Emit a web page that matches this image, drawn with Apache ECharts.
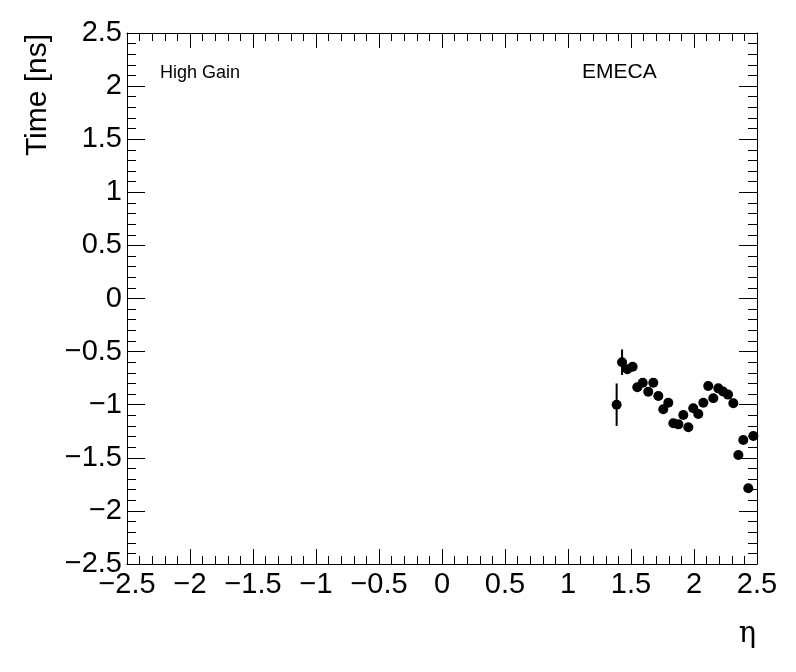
<!DOCTYPE html>
<html>
<head>
<meta charset="utf-8">
<script src="https://cdn.jsdelivr.net/npm/echarts@6/dist/echarts.min.js"></script>
<style>html,body{margin:0;padding:0;background:#fff}#c{width:796px;height:672px}</style>
</head>
<body>
<div id="c"></div>
<script>
var eta = [1.386, 1.429, 1.471, 1.513, 1.550, 1.593, 1.637, 1.677, 1.717, 1.756, 1.796, 1.836, 1.876, 1.915, 1.955, 1.994, 2.034, 2.074, 2.113, 2.153, 2.193, 2.230, 2.270, 2.312, 2.352, 2.391, 2.431, 2.471];
var timeNs = [-1.00, -0.60, -0.667, -0.642, -0.836, -0.793, -0.878, -0.793, -0.918, -1.043, -0.981, -1.175, -1.185, -1.097, -1.213, -1.034, -1.088, -0.981, -0.824, -0.940, -0.846, -0.875, -0.905, -0.987, -1.474, -1.332, -1.787, -1.295];
var timeErr = [0.20, 0.12, 0.03, 0.03, 0.03, 0.03, 0.03, 0.03, 0.03, 0.03, 0.03, 0.03, 0.03, 0.03, 0.03, 0.03, 0.03, 0.03, 0.03, 0.03, 0.03, 0.03, 0.03, 0.03, 0.03, 0.03, 0.03, 0.03];
var xTitle = 'η';
var yTitle = 'Time [ns]';
var label1 = 'High Gain';
var label2 = 'EMECA';

var FONT = '"Liberation Sans", Arial, Helvetica, sans-serif';
function fmt(v) {
  var a = Math.round(Math.abs(v) * 10) / 10;
  return (v < -1e-9 ? '\u2212' : '') + a;
}
var pts = eta.map(function (e, i) { return [e, timeNs[i]]; });
var errs = eta.map(function (e, i) { return [e, timeNs[i] - timeErr[i], timeNs[i] + timeErr[i]]; });

function axis(extra, majorLen, minorLen) {
  var o = {
    axisLine: { show: true, onZero: false, lineStyle: { color: '#000', width: 1 } },
    axisTick: { show: true, inside: true, length: majorLen, lineStyle: { color: '#000', width: 1 } },
    minorTick: { show: true, splitNumber: 5, length: minorLen, lineStyle: { color: '#000', width: 1 } },
    splitLine: { show: false }
  };
  for (var k in extra) o[k] = extra[k];
  return o;
}

var chart = echarts.init(document.getElementById('c'), null, { renderer: 'canvas' });
chart.setOption({
  animation: false,
  backgroundColor: '#fff',
  grid: { left: 127, right: 39, top: 33, bottom: 108 },
  xAxis: [
    axis({ type: 'value', min: -2.5, max: 2.5, interval: 0.5, position: 'bottom',
      axisLabel: { show: true, formatter: fmt, color: '#000', fontFamily: FONT, fontSize: 29, margin: 6 } }, 15, 8),
    axis({ type: 'value', min: -2.5, max: 2.5, interval: 0.5, position: 'top', axisLabel: { show: false } }, 15, 8)
  ],
  yAxis: [
    axis({ type: 'value', min: -2.5, max: 2.5, interval: 0.5, position: 'left',
      axisLabel: { show: true, formatter: fmt, color: '#000', fontFamily: FONT, fontSize: 29, margin: 5 } }, 18, 9),
    axis({ type: 'value', min: -2.5, max: 2.5, interval: 0.5, position: 'right', axisLabel: { show: false } }, 18, 9)
  ],
  series: [
    {
      type: 'custom',
      xAxisIndex: 0, yAxisIndex: 0,
      data: errs,
      renderItem: function (params, api) {
        var p1 = api.coord([api.value(0), api.value(1)]);
        var p2 = api.coord([api.value(0), api.value(2)]);
        return { type: 'line', shape: { x1: p1[0], y1: p1[1], x2: p2[0], y2: p2[1] },
          style: { stroke: '#000', lineWidth: 2 } };
      },
      z: 2
    },
    {
      type: 'scatter',
      xAxisIndex: 0, yAxisIndex: 0,
      data: pts,
      symbol: 'circle',
      symbolSize: 10,
      itemStyle: { color: '#000', opacity: 1 },
      z: 3
    }
  ],
  graphic: [
    { type: 'text', left: 160, top: 64, style: { text: label1, font: '18px ' + FONT, fill: '#000' } },
    { type: 'text', left: 582, top: 62, style: { text: label2, font: '21px ' + FONT, fill: '#000' } },
    { type: 'text', right: 40, top: 620, style: { text: xTitle, font: '29px "DejaVu Serif", "Liberation Serif", serif', fill: '#000' } },
    { type: 'text', x: 38, y: 95, rotation: Math.PI / 2, style: { text: yTitle, font: '30px ' + FONT, fill: '#000', align: 'center', verticalAlign: 'middle' } }
  ]
});
</script>
</body>
</html>
